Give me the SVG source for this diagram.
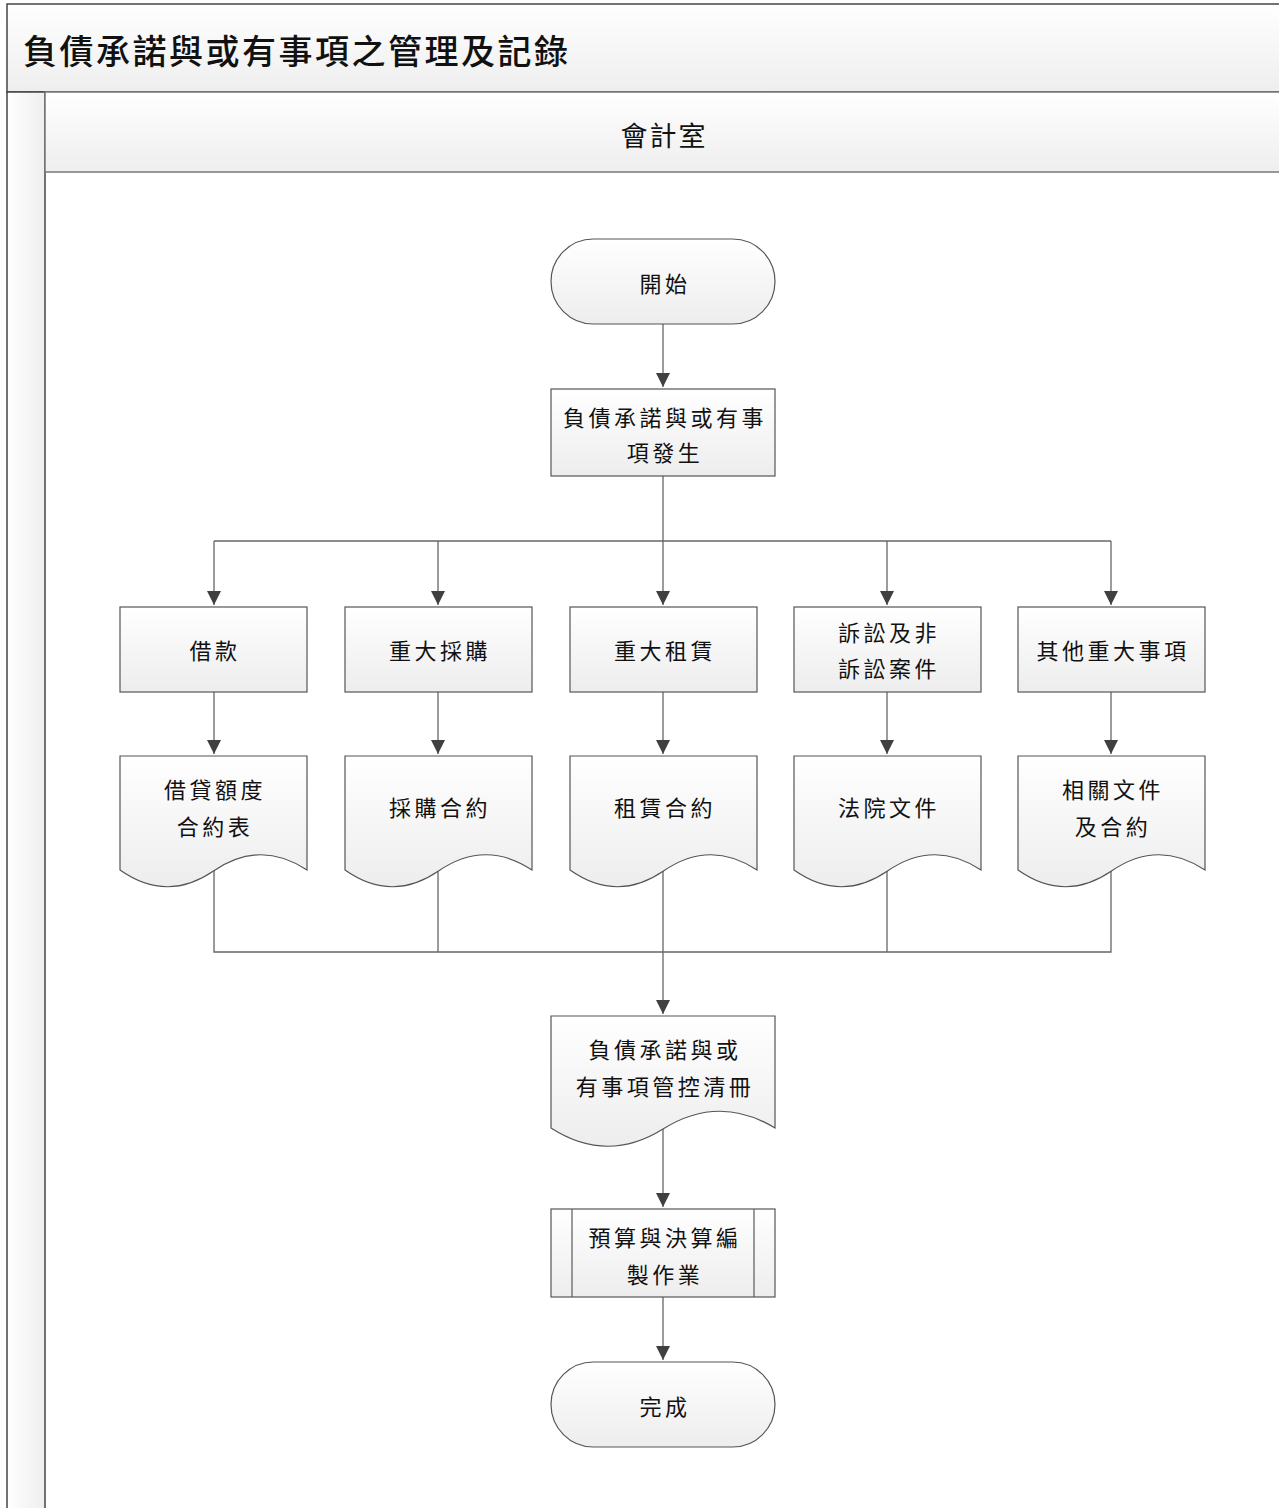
<svg xmlns="http://www.w3.org/2000/svg" width="1279" height="1508" viewBox="0 0 1279 1508">
<defs>
<linearGradient id="gN" x1="0" y1="0" x2="0" y2="1"><stop offset="0" stop-color="#ffffff"/><stop offset="1" stop-color="#ededed"/></linearGradient>
<linearGradient id="gH" x1="0" y1="0" x2="0" y2="1"><stop offset="0" stop-color="#ffffff"/><stop offset="1" stop-color="#eeeeee"/></linearGradient>
<linearGradient id="gV" x1="0" y1="0" x2="1" y2="0"><stop offset="0" stop-color="#ffffff"/><stop offset="1" stop-color="#eeeeee"/></linearGradient>
<marker id="arr" markerWidth="16" markerHeight="16" refX="14" refY="7" orient="auto" markerUnits="userSpaceOnUse"><path d="M0,0 L14,7 L0,14 Z" fill="#404040"/></marker>
<style>
.frame{fill:url(#gH);stroke:#444;stroke-width:1.5}
.strip{fill:url(#gV);stroke:#444;stroke-width:1.5}
.hdr{fill:url(#gH);stroke:#777;stroke-width:1.5}
.n{fill:url(#gN);stroke:#555;stroke-width:1.2}
.c{fill:none;stroke:#666;stroke-width:1.3}
.ca{fill:none;stroke:#666;stroke-width:1.3;marker-end:url(#arr)}
text{font-family:"Noto Sans CJK TC","Noto Sans CJK SC",sans-serif;fill:#111}
.t{font-size:22px;letter-spacing:3.5px;text-anchor:middle;dominant-baseline:central}
.title{font-size:34px;letter-spacing:2.5px;font-weight:500}
.lane{font-size:27px;letter-spacing:2px;text-anchor:middle;dominant-baseline:central}
</style>
</defs>
<g id="pool">
<rect x="7" y="4" width="1280" height="88" class="frame"/>
<text x="23" y="64" class="title">負債承諾與或有事項之管理及記錄</text>
<rect x="7" y="92" width="38" height="1430" class="strip"/>
<rect x="45" y="92" width="1240" height="80" class="hdr"/>
<text x="664" y="134" class="lane">會計室</text>
</g>
<g id="connectors">
<path d="M663,324 V387" class="ca"/>
<path d="M663,476 V541" class="c"/>
<path d="M214,541 H1111" class="c"/>
<path d="M214,541 V605" class="ca"/>
<path d="M438,541 V605" class="ca"/>
<path d="M663,541 V605" class="ca"/>
<path d="M887,541 V605" class="ca"/>
<path d="M1111,541 V605" class="ca"/>
<path d="M214,692 V754" class="ca"/>
<path d="M438,692 V754" class="ca"/>
<path d="M663,692 V754" class="ca"/>
<path d="M887,692 V754" class="ca"/>
<path d="M1111,692 V754" class="ca"/>
<path d="M214,871 V952 H1111 V871" class="c"/>
<path d="M438,871 V952" class="c"/>
<path d="M887,871 V952" class="c"/>
<path d="M663,871 V1014" class="ca"/>
<path d="M663,1129 V1207" class="ca"/>
<path d="M663,1297 V1360" class="ca"/>
</g>
<g id="start"><rect x="551" y="239" width="224" height="85" rx="42.5" class="n"/><text x="665" y="282" class="t">開始</text></g>
<g id="occur"><rect x="551" y="389" width="224" height="87" class="n"/><text x="665" y="416" class="t">負債承諾與或有事</text><text x="665" y="451" class="t">項發生</text></g>
<g id="b1"><rect x="120" y="607" width="187" height="85" class="n"/><text x="215" y="649" class="t">借款</text></g>
<g id="b2"><rect x="345" y="607" width="187" height="85" class="n"/><text x="440" y="649" class="t">重大採購</text></g>
<g id="b3"><rect x="570" y="607" width="187" height="85" class="n"/><text x="665" y="649" class="t">重大租賃</text></g>
<g id="b4"><rect x="794" y="607" width="187" height="85" class="n"/><text x="889" y="631" class="t">訴訟及非</text><text x="889" y="667" class="t">訴訟案件</text></g>
<g id="b5"><rect x="1018" y="607" width="187" height="85" class="n"/><text x="1113" y="649" class="t">其他重大事項</text></g>
<g id="d1"><path d="M120,756 H307 V870 Q260,839 213.5,871 T120,870 Z" class="n"/><text x="215" y="788" class="t">借貸額度</text><text x="215" y="825" class="t">合約表</text></g>
<g id="d2"><path d="M345,756 H532 V870 Q485,839 438.5,871 T345,870 Z" class="n"/><text x="440" y="806" class="t">採購合約</text></g>
<g id="d3"><path d="M570,756 H757 V870 Q710,839 663.5,871 T570,870 Z" class="n"/><text x="665" y="806" class="t">租賃合約</text></g>
<g id="d4"><path d="M794,756 H981 V870 Q934,839 887.5,871 T794,870 Z" class="n"/><text x="889" y="806" class="t">法院文件</text></g>
<g id="d5"><path d="M1018,756 H1205 V870 Q1158,839 1111.5,871 T1018,870 Z" class="n"/><text x="1113" y="788" class="t">相關文件</text><text x="1113" y="825" class="t">及合約</text></g>
<g id="ledger"><path d="M551,1016 H775 V1128 Q719,1094 663,1129 T551,1128 Z" class="n"/><text x="665" y="1048" class="t">負債承諾與或</text><text x="665" y="1085" class="t">有事項管控清冊</text></g>
<g id="budget"><rect x="551" y="1209" width="224" height="88" class="n"/><path d="M572,1209 V1297 M754,1209 V1297" class="c"/><text x="665" y="1236" class="t">預算與決算編</text><text x="665" y="1273" class="t">製作業</text></g>
<g id="end"><rect x="551" y="1362" width="224" height="85" rx="42.5" class="n"/><text x="665" y="1405" class="t">完成</text></g>
</svg>
